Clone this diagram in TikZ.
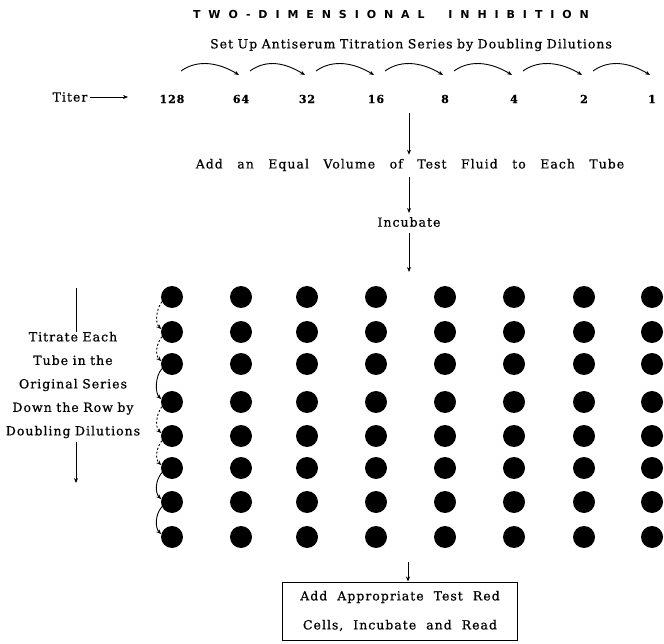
\documentclass[tikz,border=0pt]{standalone}
\usepackage{fontspec}
\setmainfont{DejaVu Serif}
\newfontfamily\titlefont[LetterSpace=72]{DejaVu Sans}
\newfontfamily\txtfont[LetterSpace=8,FakeBold=0.6]{DejaVu Serif}
\newcommand\myTxt{\txtfont\fontsize{12.5}{23.5}\selectfont\spaceskip 4.5pt plus 1pt\relax}
\newcommand\myWide{\txtfont\fontsize{12.5}{29}\selectfont\spaceskip 14.5pt plus 1pt\relax}
\newcommand\myBox{\txtfont\fontsize{12.5}{29}\selectfont\spaceskip 10pt plus 1pt\relax}
\usetikzlibrary{arrows.meta}
\begin{document}
\begin{tikzpicture}[x=1pt,y=-1pt,
  txt/.style={font=\myTxt, inner sep=0pt},
  wide/.style={font=\myWide, inner sep=0pt},
  boxt/.style={font=\myBox},
  num/.style={font=\txtfont\bfseries\fontsize{11}{13}\selectfont, inner sep=0pt},
  ttl/.style={font=\titlefont\bfseries\fontsize{11}{13}\selectfont, inner sep=0pt},
  dot/.style={circle, fill=black, minimum size=22pt, inner sep=0pt},
  arr/.style={-{Stealth[length=5pt,width=4pt]}, line width=0.9pt},
  darr/.style={arr, dashed, dash pattern=on 2pt off 2pt},
  sarr/.style={arr}]
\useasboundingbox (0,0) rectangle (664,644);

% titles
\node[ttl] (title) at (391,14) {TWO-DIMENSIONAL\hspace{12pt} INHIBITION};
\node[txt] (sub) at (411,45) {Set Up Antiserum Titration Series by Doubling Dilutions};

% titer row
\node[txt] (titer) at (70,97) {Titer};
\coordinate (titerend) at (128,97);
\draw[arr, line width=0.7pt] ([xshift=2pt]titer.east) -- (titerend);

\foreach \i/\x/\t in {1/172/128,2/241/64,3/307/32,4/376/16,5/445/8,6/514/4,7/584/2,8/652/1}{
  \node[num] (n\i) at (\x,99) {\t};
}

% curved transfer arrows
\foreach \i/\sx/\ex in {1/181/239,2/250/305,3/316/374,4/385/443,5/454/512,6/523/582,7/593/650}{
  \coordinate (s\i) at (\sx,71);
  \coordinate (e\i) at (\ex,75);
  \draw[arr] (s\i) .. controls +(18,-13) and +(-18,-11) .. (e\i);
}

% vertical flow
\coordinate (v0) at (409,113);
\node[wide] (add) at (410,165) {Add an Equal Volume of Test Fluid to Each Tube};
\node[txt] (inc) at (409,222) {Incubate};
\coordinate (v3) at (409,272);
\draw[arr] (v0) -- ([yshift=4pt]v0 |- add.north);
\draw[arr] ([yshift=-6pt]v0 |- add.south) -- ([yshift=4pt]inc.north);
\draw[arr] ([yshift=-6pt]inc.south) -- (v3);

% dots
\foreach \c/\x in {1/172,2/241,3/307,4/376,5/445,6/514,7/584,8/652}{
  \foreach \r/\y in {1/297,2/332,3/364,4/402,5/436,6/468,7/502,8/537}{
    \node[dot] (d\c-\r) at (\x,\y) {};
  }
}

% dashed titration arrows down column 1
\foreach \r/\s in {1/2,2/3,4/5,5/6}{
  \draw[darr] (d1-\r.205) .. controls +(-6,8) and +(-6,-6) .. (d1-\s.165);
}
\foreach \r/\s in {3/4,6/7,7/8}{
  \draw[sarr] (d1-\r.205) .. controls +(-7,8) and +(-6,-6) .. (d1-\s.165);
}

% left explanation
\node[txt, align=center] (left) at (73,385) {Titrate Each\\Tube in the\\Original Series\\Down the Row by\\Doubling Dilutions};
\coordinate (ltop) at (76,288);
\coordinate (lbot) at (76,483);
\draw[line width=0.9pt] (ltop) -- (ltop |- left.north);
\draw[arr] ([yshift=-4pt]ltop |- left.south) -- (lbot);

% final box
\node[draw, line width=1pt, boxt, align=center, minimum width=235pt, minimum height=58pt, inner sep=0pt] (box) at (400,611) {Add Appropriate Test Red\\Cells, Incubate and Read};
\coordinate (btop) at (408,562);
\draw[arr] (btop) -- (btop |- box.north);
\end{tikzpicture}
\end{document}
